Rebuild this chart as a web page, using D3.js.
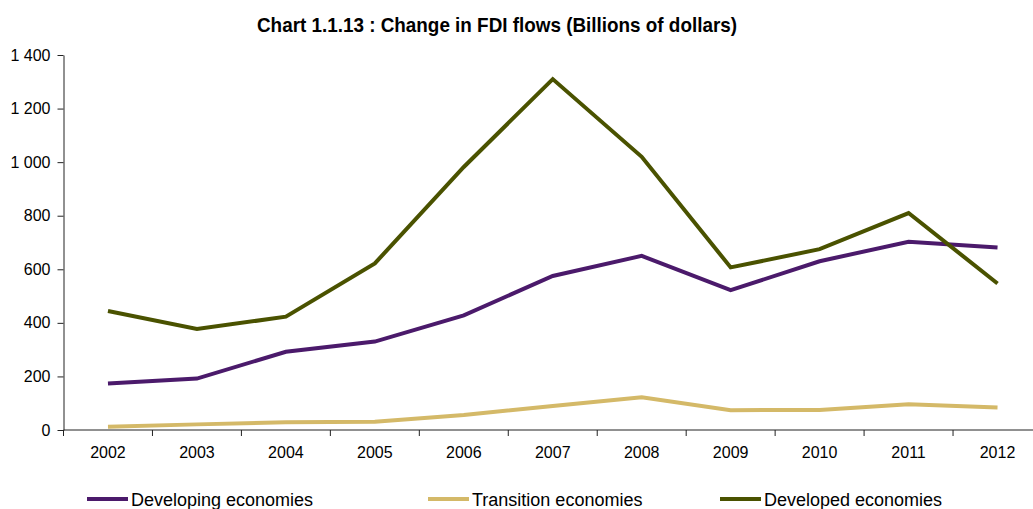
<!DOCTYPE html>
<html>
<head>
<meta charset="utf-8">
<script src="https://cdn.jsdelivr.net/npm/d3@7"></script>
<style>
  html, body { margin: 0; padding: 0; background: #fff; }
  svg { display: block; }
  text { font-family: "Liberation Sans", Arial, sans-serif; fill: #000; }
</style>
</head>
<body>
<svg id="chart" width="1033" height="509"></svg>
<script>
// FDI inflows by group of economies, billions of dollars
const years = ["2002", "2003", "2004", "2005", "2006", "2007", "2008", "2009", "2010", "2011", "2012"];
const developing = [174, 192, 292, 330, 428, 575, 650, 522, 630, 703, 681];
const transition = [12, 21, 29, 31, 56, 90, 122, 74, 75, 96, 84];
const developed = [444, 377, 423, 622, 982, 1310, 1020, 607, 675, 810, 547];
const seriesNames = ["Developing economies", "Transition economies", "Developed economies"];
const seriesColors = ["#4b1a6b", "#d4b968", "#4a5200"];
const yTicks = [0, 200, 400, 600, 800, 1000, 1200, 1400];

const series = [
  { name: seriesNames[0], values: developing, color: seriesColors[0] },
  { name: seriesNames[1], values: transition, color: seriesColors[1] },
  { name: seriesNames[2], values: developed, color: seriesColors[2] }
];

const svg = d3.select("#chart");
const plotLeft = 63.5, plotBottom = 430, plotTop = 55, bandRight = 1042;

const x = d3.scaleBand().domain(years).range([plotLeft, bandRight]).padding(0);
const y = d3.scaleLinear().domain([0, 1400]).range([plotBottom, plotTop]);
const fmt = d3.formatLocale({ decimal: ".", thousands: " ", grouping: [3], currency: ["", ""] }).format(",d");

// title, set in a condensed width
svg.append("text")
  .attr("x", 497)
  .attr("y", 32)
  .attr("text-anchor", "middle")
  .attr("textLength", 480)
  .attr("lengthAdjust", "spacingAndGlyphs")
  .style("font-weight", "bold")
  .style("font-size", "21px")
  .text("Chart 1.1.13 : Change in FDI flows (Billions of dollars)");

// y axis
const yAxis = svg.append("g")
  .attr("transform", `translate(${plotLeft},0)`)
  .call(d3.axisLeft(y).tickValues(yTicks).tickFormat(fmt).tickSize(6).tickSizeOuter(0));
yAxis.select(".domain").attr("stroke", "#222");
yAxis.selectAll(".tick line").attr("stroke", "#222");
yAxis.selectAll(".tick text").attr("x", -13).style("font-size", "16px").style("font-family", null);

// x axis: ticks on band boundaries
const xAxis = svg.append("g")
  .attr("transform", `translate(0,${plotBottom})`);
xAxis.append("line")
  .attr("x1", plotLeft).attr("x2", 1033)
  .attr("stroke", "#222");
xAxis.selectAll("line.tk")
  .data(years)
  .join("line")
  .attr("class", "tk")
  .attr("x1", d => x(d)).attr("x2", d => x(d))
  .attr("y1", 0).attr("y2", 6)
  .attr("stroke", "#222");
xAxis.selectAll("text")
  .data(years)
  .join("text")
  .attr("x", d => x(d) + x.bandwidth() / 2)
  .attr("y", 28)
  .attr("text-anchor", "middle")
  .style("font-size", "16px")
  .text(d => d);

// lines
const line = d3.line()
  .x((d, i) => x(years[i]) + x.bandwidth() / 2)
  .y(d => y(d));

svg.append("g")
  .selectAll("path")
  .data(series)
  .join("path")
  .attr("d", d => line(d.values))
  .attr("fill", "none")
  .attr("stroke", d => d.color)
  .attr("stroke-width", 4)
  .attr("stroke-linejoin", "miter");

// legend
const legendX = [87, 428, 720];
const legend = svg.append("g")
  .selectAll("g")
  .data(series)
  .join("g")
  .attr("transform", (d, i) => `translate(${legendX[i]},499)`);
legend.append("line")
  .attr("x1", 0).attr("x2", 41)
  .attr("stroke", d => d.color)
  .attr("stroke-width", 4);
legend.append("text")
  .attr("x", 44)
  .attr("y", 7)
  .style("font-size", "18px")
  .text(d => d.name);
</script>
</body>
</html>
